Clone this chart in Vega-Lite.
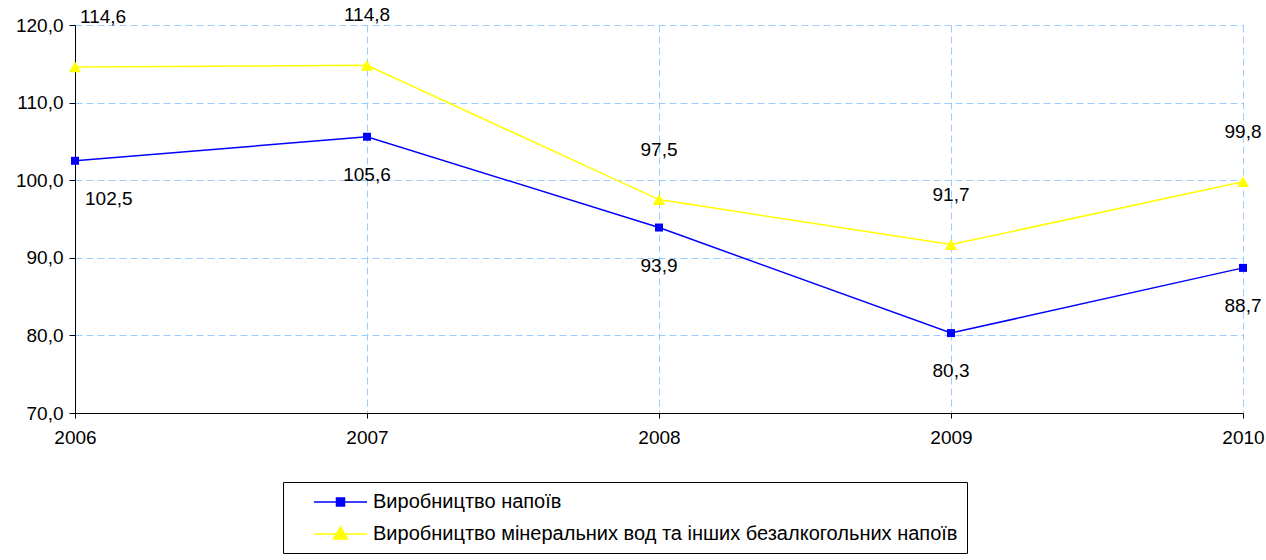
{
  "$schema": "https://vega.github.io/schema/vega-lite/v6.json",
  "width": 1168,
  "height": 388,
  "autosize": "none",
  "padding": {"left": 75, "top": 25, "right": 23, "bottom": 147},
  "background": "white",
  "config": {
    "font": "Liberation Sans",
    "view": {"stroke": null},
    "locale": {"number": {"decimal": ",", "thousands": " ", "grouping": [3], "currency": ["", ""]}},
    "axis": {"labelFont": "Liberation Sans", "labelColor": "black", "labelFontSize": 19}
  },
  "data": {
    "values": [
      {"year": 2006, "series": "Виробництво напоїв", "value": 102.5},
      {"year": 2007, "series": "Виробництво напоїв", "value": 105.6},
      {"year": 2008, "series": "Виробництво напоїв", "value": 93.9},
      {"year": 2009, "series": "Виробництво напоїв", "value": 80.3},
      {"year": 2010, "series": "Виробництво напоїв", "value": 88.7},
      {"year": 2006, "series": "Виробництво мінеральних вод та інших безалкогольних напоїв", "value": 114.6},
      {"year": 2007, "series": "Виробництво мінеральних вод та інших безалкогольних напоїв", "value": 114.8},
      {"year": 2008, "series": "Виробництво мінеральних вод та інших безалкогольних напоїв", "value": 97.5},
      {"year": 2009, "series": "Виробництво мінеральних вод та інших безалкогольних напоїв", "value": 91.7},
      {"year": 2010, "series": "Виробництво мінеральних вод та інших безалкогольних напоїв", "value": 99.8}
    ]
  },
  "encoding": {
    "x": {
      "field": "year", "type": "quantitative",
      "scale": {"domain": [2006, 2010], "nice": false, "zero": false},
      "axis": {
        "title": null, "values": [2006, 2007, 2008, 2009, 2010], "format": "d",
        "labelFlush": false,
        "domainColor": "black", "tickColor": "black", "tickSize": 5,
        "labelPadding": 10,
        "grid": true, "gridColor": "#99ccff", "gridDash": [7, 4], "gridWidth": 1
      }
    },
    "y": {
      "field": "value", "type": "quantitative",
      "scale": {"domain": [70, 120], "nice": false, "zero": false},
      "axis": {
        "title": null, "values": [70, 80, 90, 100, 110, 120],
        "format": ".1f",
        "labelFlush": false,
        "domainColor": "black", "tickColor": "black", "tickSize": 6,
        "labelPadding": 6,
        "grid": true, "gridColor": "#99ccff", "gridDash": [7, 4], "gridWidth": 1
      }
    },
    "color": {
      "field": "series", "type": "nominal",
      "scale": {"domain": ["Виробництво напоїв", "Виробництво мінеральних вод та інших безалкогольних напоїв"], "range": ["#0000ff", "#ffff00"]},
      "legend": {
        "title": null,
        "orient": "none",
        "legendX": 208,
        "legendY": 457,
        "direction": "vertical",
        "strokeColor": "black",
        "padding": 9,
        "labelFont": "Liberation Sans",
        "labelFontSize": 20,
        "labelColor": "black",
        "labelLimit": 0,
        "labelOffset": 59,
        "rowPadding": 11,
        "symbolSize": 400,
        "symbolStrokeWidth": 1.5,
        "symbolOpacity": 1,
        "encode": {
          "symbols": {
            "update": {
              "shape": {"signal": "datum.value == 'Виробництво напоїв' ? 'M1.1,0H6.4M3.35,-0.4H4.15V0.4H3.35Z' : 'M1.1,0H6.4M3.75,-0.7L4.45,0.5H3.05Z'"},
              "fill": {"signal": "datum.value == 'Виробництво напоїв' ? '#0000ff' : '#ffff00'"},
              "stroke": {"signal": "datum.value == 'Виробництво напоїв' ? '#0000ff' : '#ffff00'"},
              "fillOpacity": {"value": 1},
              "strokeWidth": {"value": 1.5}
            }
          }
        }
      }
    }
  },
  "layer": [
    {
      "mark": {"type": "line", "strokeWidth": 1.5}
    },
    {
      "transform": [{"filter": "datum.series == 'Виробництво напоїв'"}],
      "mark": {"type": "point", "shape": "square", "size": 64, "filled": true, "opacity": 1}
    },
    {
      "transform": [{"filter": "datum.series != 'Виробництво напоїв'"}],
      "mark": {"type": "point", "shape": "triangle-up", "size": 150, "filled": true, "opacity": 1}
    },
    {
      "transform": [{"filter": "datum.series == 'Виробництво напоїв'"}],
      "mark": {"type": "text", "fontSize": 19, "color": "black", "dy": 38, "align": {"expr": "datum.year == 2006 ? 'left' : 'center'"}, "dx": {"expr": "datum.year == 2006 ? 10 : 0"}},
      "encoding": {
        "color": {"value": "black"},
        "text": {"field": "value", "type": "quantitative", "format": ".1f"}
      }
    },
    {
      "transform": [{"filter": "datum.series != 'Виробництво напоїв'"}],
      "mark": {"type": "text", "fontSize": 19, "color": "black", "dy": -50, "align": {"expr": "datum.year == 2006 ? 'left' : 'center'"}, "dx": {"expr": "datum.year == 2006 ? 5 : 0"}},
      "encoding": {
        "color": {"value": "black"},
        "text": {"field": "value", "type": "quantitative", "format": ".1f"}
      }
    }
  ]
}
